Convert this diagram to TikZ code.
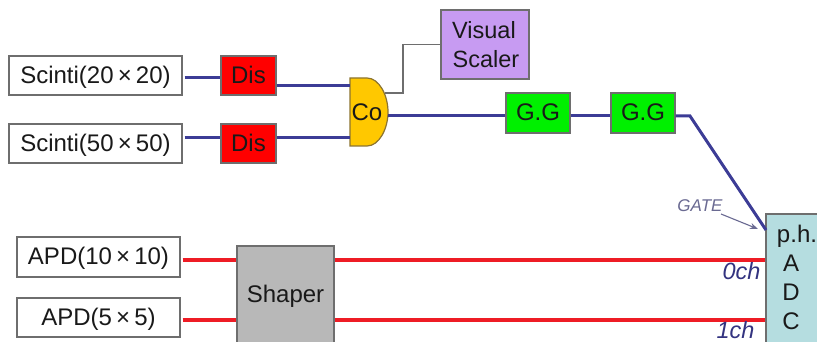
\documentclass[tikz,border=0pt]{standalone}
\usepackage{fontspec}
\usetikzlibrary{arrows.meta}
\setmainfont{Liberation Sans}
\definecolor{edgegray}{HTML}{6E6E6E}
\definecolor{wireblue}{HTML}{3C3C96}
\definecolor{wirered}{HTML}{EE1C25}
\definecolor{disred}{HTML}{FF0000}
\definecolor{ggreen}{HTML}{00F000}
\definecolor{vispurple}{HTML}{C79BF2}
\definecolor{shapergray}{HTML}{B8B8B8}
\definecolor{adcblue}{HTML}{B5DDE0}
\definecolor{coyellow}{HTML}{FFC800}
\definecolor{coedge}{HTML}{8C7430}
\definecolor{labelblue}{HTML}{333380}
\definecolor{gategray}{HTML}{6A6A92}
\tikzset{
  blockbox/.style={draw=edgegray,line width=1.2pt,inner sep=0pt,align=center,font=\fontsize{24}{29}\selectfont,text=black!90},
  onebox/.style={blockbox,text height=15.5pt,text depth=0pt},
  sourcebox/.style={onebox,fill=white},
  wireb/.style={draw=wireblue,line width=3pt},
  wirer/.style={draw=wirered,line width=3.2pt},
  thinwire/.style={draw=edgegray,line width=1.2pt},
  chlabel/.style={anchor=base,font=\fontsize{23.5}{26}\selectfont\itshape,text=labelblue,inner sep=0pt},
  plainlabel/.style={anchor=base,inner sep=0pt,font=\fontsize{24}{26}\selectfont,text=black!90},
}
\begin{document}
\begin{tikzpicture}[x=1pt,y=-1pt]
\useasboundingbox (0,0) rectangle (817,342);
\clip (0,0) rectangle (817,342);
\fill[white] (0,0) rectangle (817,342);
% Sources
\node[sourcebox,minimum width=173pt,minimum height=39pt] (sc1) at (95.5,75.5) {Scinti(20$\,$×$\,$20)};
\node[sourcebox,minimum width=173pt,minimum height=39pt] (sc2) at (95.5,143.5) {Scinti(50$\,$×$\,$50)};
\node[sourcebox,minimum width=163pt,minimum height=40pt] (apd1) at (98.5,257) {APD(10$\,$×$\,$10)};
\node[sourcebox,minimum width=163pt,minimum height=39pt] (apd2) at (98.5,317.5) {APD(5$\,$×$\,$5)};
% Discriminators
\node[onebox,fill=disred,minimum width=55pt,minimum height=39pt] (dis1) at (248.5,75.5) {Dis};
\node[onebox,fill=disred,minimum width=55pt,minimum height=39pt] (dis2) at (248.5,143.5) {Dis};
% Coincidence
\draw[draw=coedge,fill=coyellow,line width=1.2pt] (350,78) -- (367,78)
  .. controls (379,78) and (388,95) .. (388,112)
  .. controls (388,129) and (379,146) .. (367,146) -- (350,146) -- cycle;
\node[plainlabel] (co) at (367,121) {Co};
\coordinate (coIa) at (350,86);
\coordinate (coIb) at (350,138);
\coordinate (coOut) at (388,116);
\coordinate (coTap) at (385,93);
\coordinate (bendS) at (403,93);
% Scaler, gate generators
\node[blockbox,fill=vispurple,minimum width=88pt,minimum height=69pt] (vis) at (485,44.5) {};
\node[plainlabel,font=\fontsize{23.5}{26}\selectfont] (vistxt1) at (484,38.5) {Visual};
\node[plainlabel,font=\fontsize{23.5}{26}\selectfont] (vistxt2) at (486,67.5) {Scaler};
\node[onebox,fill=ggreen,minimum width=64pt,minimum height=40pt] (gg1) at (538,113) {G.G};
\node[onebox,fill=ggreen,minimum width=64pt,minimum height=40pt] (gg2) at (643,113) {G.G};
% Shaper and ADC
\node[blockbox,fill=shapergray,minimum width=97pt,minimum height=110pt] (shp) at (285.5,301) {};
\node[plainlabel] (shptxt) at (285.5,302.7) {Shaper};
\node[blockbox,fill=adcblue,minimum width=70pt,minimum height=140pt] (adc) at (801,284) {};
\node[plainlabel] (adc1) at (797,242) {p.h.};
\node[plainlabel] (adc2) at (791,271.7) {A};
\node[plainlabel] (adc3) at (791,300.7) {D};
\node[plainlabel] (adc4) at (791,329) {C};
% Coordinates on block edges
\coordinate (adcG) at (766,230);
\coordinate (bendG) at (690,116);
% Blue wires
\draw[wireb,shorten <=2pt] (sc1.east |- 0,78) -- (dis1.west |- 0,78);
\draw[wireb,shorten <=2pt] (sc2.east |- 0,138) -- (dis2.west |- 0,138);
\draw[wireb] (dis1.east |- coIa) -- (coIa);
\draw[wireb] (dis2.east |- coIb) -- (coIb);
\draw[wireb] (coOut) -- (gg1.west |- coOut);
\draw[wireb] (gg1.east |- coOut) -- (gg2.west |- coOut);
\draw[wireb,line join=miter] (gg2.east |- coOut) -- (bendG) -- (adcG);
% Thin wire to scaler
\draw[thinwire] (coTap) -- (bendS) -- (bendS |- vis.west) -- (vis.west);
% Red wires
\draw[wirer,shorten <=2pt] (apd1.east |- 0,260) -- (shp.west |- 0,260);
\draw[wirer,shorten <=2pt] (apd2.east |- 0,320) -- (shp.west |- 0,320);
\draw[wirer] (shp.east |- 0,260) -- (adc.west |- 0,260);
\draw[wirer] (shp.east |- 0,320) -- (adc.west |- 0,320);
% Labels
\node[chlabel] (ch0) at (741.5,279) {0ch};
\node[chlabel] (ch1) at (735.5,338.5) {1ch};
\node[anchor=base,inner sep=0pt,font=\fontsize{17}{19}\selectfont\itshape,text=gategray] (gate) at (700,211.5) {GATE};
\coordinate (gateTip) at (758,229);
\draw[draw=gategray,line width=1.1pt,-{Stealth[length=8pt,width=6pt]}] (721,214) -- (gateTip);
\end{tikzpicture}
\end{document}
